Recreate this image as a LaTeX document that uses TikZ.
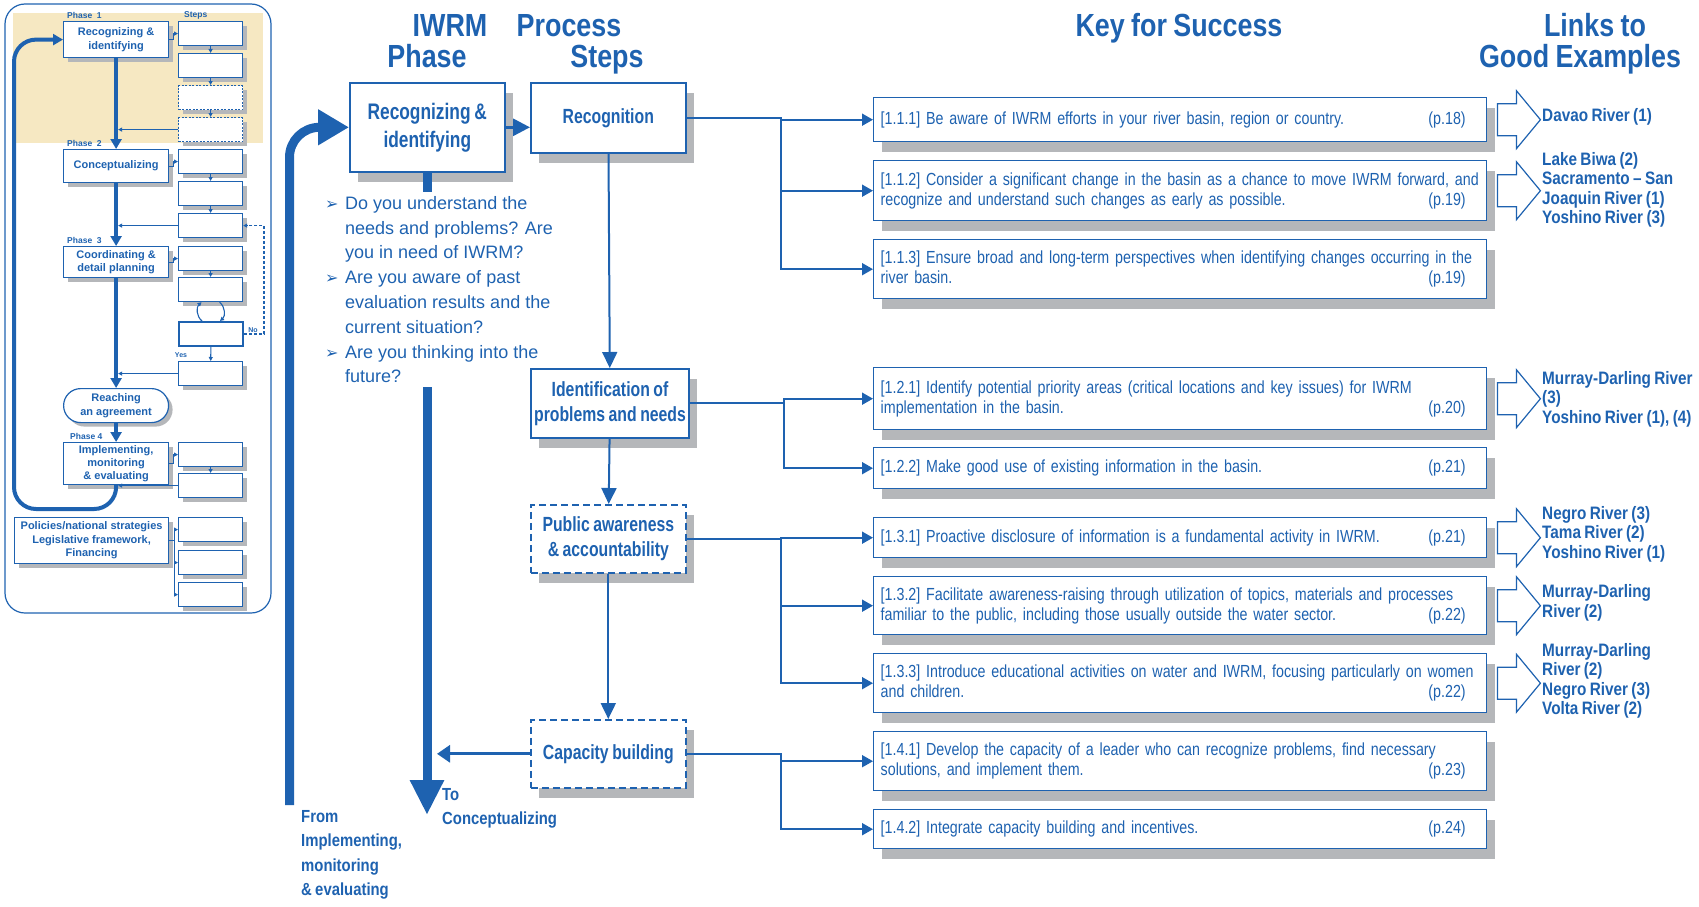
\documentclass[tikz,border=0pt]{standalone}
\usepackage{fontspec}
\setmainfont{Liberation Sans}
\newfontfamily\hdfont[FakeStretch=0.84,WordSpace=0.85]{Liberation Sans}
\newfontfamily\cnfont[FakeStretch=0.77,WordSpace=0.8]{Liberation Sans}
\newfontfamily\kyfont[FakeStretch=0.815,WordSpace=0.6]{Liberation Sans}
\newfontfamily\lkfont[FakeStretch=0.85,WordSpace=0.8]{Liberation Sans}
\newfontfamily\symfont{DejaVu Sans}
\usetikzlibrary{arrows.meta,shadows,calc}

\definecolor{iwblue}{RGB}{30,98,176}
\definecolor{shgray}{RGB}{181,183,186}
\definecolor{beige}{RGB}{246,232,194}

\newcommand\pg[1]{\hspace{\fill}(p.#1)\hspace*{14pt}}
\newcommand\bul{\makebox[20pt][l]{\symfont\fontsize{16}{16}\selectfont ➢}}
\newcommand\ind{\hspace*{20pt}}
\newcommand\linkarrow[1]{\draw[linkarr] ($(#1.east)+(10,-16)$) -- ++(19,0) -- ++(0,-13) -- ++(24,29) -- ++(-24,29) -- ++(0,-13) -- ++(-19,0) -- cycle;}

\begin{document}
\begin{tikzpicture}[x=1pt,y=-1pt,
	fat/.style={iwblue,line width=9pt},
	conn/.style={iwblue,line width=1.8pt,-{Triangle[length=11pt,width=12pt]}},
	vconn/.style={iwblue,line width=2pt,-{Triangle[length=16pt,width=15pt]}},
	bigshadow/.style={drop shadow={shadow xshift=8pt,shadow yshift=-10pt,fill=shgray,opacity=1}},
	phasebox/.style={draw=iwblue,line width=1.6pt,fill=white,anchor=north west,minimum width=155pt,align=center,text=iwblue,font=\cnfont\bfseries\fontsize{22.5}{28}\selectfont,bigshadow},
	stepbox/.style={draw=iwblue,line width=1.6pt,fill=white,anchor=north west,minimum width=155pt,align=center,text=iwblue,font=\cnfont\bfseries\fontsize{20.5}{25}\selectfont,bigshadow},
	dashbox/.style={stepbox,dash pattern=on 7pt off 4pt},
	keybox/.style={draw=iwblue,line width=1.4pt,fill=white,anchor=north west,text width=599pt,inner xsep=7pt,inner ysep=0pt,align=left,text=iwblue,font=\kyfont\fontsize{17.5}{20}\selectfont,bigshadow},
	linktxt/.style={anchor=west,align=left,inner sep=0pt,text=iwblue,font=\lkfont\bfseries\fontsize{18}{19.5}\selectfont},
	linkarr/.style={draw=iwblue,line width=1.2pt,fill=white},
	head/.style={anchor=base,inner sep=0pt,text=iwblue,font=\hdfont\bfseries\fontsize{32}{34}\selectfont},
	% overview panel
	thbox/.style={draw=iwblue,line width=1.2pt,fill=white,anchor=north west,minimum width=105pt,inner sep=0pt,align=center,text=iwblue,font=\bfseries\fontsize{11}{13.5}\selectfont,drop shadow={shadow xshift=4pt,shadow yshift=-4pt,fill=shgray,opacity=1}},
	thstep/.style={draw=iwblue,line width=1.2pt,fill=white,anchor=north west,minimum width=64pt,minimum height=24pt,inner sep=0pt,drop shadow={shadow xshift=4pt,shadow yshift=-4pt,fill=shgray,opacity=1}},
	thdstep/.style={thstep,dash pattern=on 2pt off 1.5pt},
	thdec/.style={draw=iwblue,line width=2pt,fill=white,anchor=north west,minimum width=64pt,minimum height=24pt,inner sep=0pt},
	thlbl/.style={inner sep=0pt,text=iwblue,font=\bfseries\fontsize{8.5}{9}\selectfont},
	thmain/.style={iwblue,line width=4pt,-{Triangle[length=10pt,width=11pt]}},
	thcon/.style={iwblue,line width=1.1pt,-{Triangle[length=4pt,width=4pt]}}]
\useasboundingbox (0,0) rectangle (1699,907);

%%%%% overview panel %%%%%
\fill[beige] (13,13) rectangle (263,143);
\draw[iwblue,line width=1.2pt,rounded corners=20pt] (5,4) rectangle (271,613);

\node[thlbl,anchor=west] (ph1) at (67,15) {Phase~~1};
\node[thlbl,anchor=west] (stl) at (184,15) {Steps};
\node[thlbl,anchor=west] (ph2) at (67,143) {Phase~~2};
\node[thlbl,anchor=west] (ph3) at (67,240) {Phase~~3};
\node[thlbl,anchor=west] (ph4) at (70,436) {Phase 4};

\node[thbox,minimum height=36pt] (p1) at (63,21) {Recognizing \&\\identifying};
\node[thbox,minimum height=33pt] (p2) at (63,149) {Conceptualizing};
\node[thbox,minimum height=31pt] (p3) at (63,246) {Coordinating \&\\detail planning};
\node[thbox,minimum height=34pt,rounded corners=17pt] (agr) at (63,388) {Reaching\\an agreement};
\node[thbox,minimum height=42pt,font=\bfseries\fontsize{11}{13}\selectfont] (p4) at (63,442) {Implementing,\\monitoring\\\& evaluating};
\node[thbox,minimum width=154pt,minimum height=46pt] (pol) at (14,517) {Policies/national strategies\\Legislative framework,\\Financing};

\foreach \t/\st [count=\i] in {21/thstep,53/thstep,85/thdstep,117/thdstep,149/thstep,181/thstep,213/thstep,246/thstep,277/thstep,321/thdec,361/thstep,442/thstep,473/thstep,517/thstep,550/thstep,582/thstep}
	\node[\st] (s\i) at (178,\t) {};

\draw[thmain] (p1) -- (p2);
\draw[thmain] (p2) -- (p3);
\draw[thmain] (p3) -- (agr);
\draw[thmain] (agr) -- (p4);
\coordinate (loopc) at (14,509);
\draw[thmain,rounded corners=22pt] (p4.south) |- (loopc) |- (p1.west);

\draw[thcon] (p1.east) -- ++(4,0) |- (s1.west);
\draw[thcon] (p2.east) -- ++(4,0) |- (s5.west);
\draw[thcon] (p3.east) -- ++(4,0) |- (s8.west);
\draw[thcon] (p4.east) -- ++(4,0) |- (s12.west);
\foreach \a/\b in {1/2,2/3,3/4,5/6,6/7,8/9,10/11,12/13}
	\draw[thcon] (s\a) -- (s\b);
\foreach \a in {4,7,11,13}
	\draw[thcon,shorten >=2pt] (s\a.west) -- (s\a.west -| p1.south);
\draw[thcon] ($(s10.north)+(-9,0)$) to[bend left=50] ($(s9.south)+(-9,0)$);
\draw[thcon] ($(s9.south)+(9,0)$) to[bend left=50] ($(s10.north)+(9,0)$);
\draw[thcon,dash pattern=on 3pt off 2pt] (s10.east) -- ++(20,0) |- (s7.east);
\node[thlbl,font=\bfseries\fontsize{7}{8}\selectfont,anchor=south] (nol) at (253,333) {No};
\node[thlbl,font=\bfseries\fontsize{7}{8}\selectfont] (yesl) at (181,355) {Yes};
\draw[thcon] (pol.east) -- ++(5,0) |- (s14.west);
\draw[thcon] (pol.east) -- ++(5,0) |- (s15.west);
\draw[thcon] (pol.east) -- ++(5,0) |- (s16.west);

%%%%% headings %%%%%
\node[head] (hiw) at (450,37) {IWRM};
\node[head] (hph) at (427,67) {Phase};
\node[head] (hpr) at (569,37) {Process};
\node[head] (hst) at (607,67) {Steps};
\node[head] (hky) at (1179,37) {Key for Success};
\node[head] (hln) at (1595,37) {Links to};
\node[head] (hgd) at (1580,67) {Good Examples};

%%%%% phase and steps %%%%%
\node[phasebox,minimum height=89pt] (recog) at (349,82) {Recognizing \&\\identifying};
\node[stepbox,minimum height=70pt] (rec) at (530,82) {Recognition};
\node[stepbox,minimum height=69pt] (ident) at (530,368) {Identification of\\problems and needs};
\node[dashbox,minimum height=68pt] (pub) at (530,504) {Public awareness\\\& accountability};
\node[dashbox,minimum height=68pt] (cap) at (530,719) {Capacity building};

\draw[iwblue,line width=3pt,-{Triangle[length=17pt,width=17pt]}] (recog.east) -- (recog.east -| rec.west);
\draw[vconn] (rec) -- (ident);
\draw[vconn] (ident) -- (pub);
\draw[vconn] (pub) -- (cap);

\draw[fat] (recog.south) -- ++(0,19);
\node[anchor=north west,inner sep=0pt,align=left,text=iwblue,font=\fontsize{18}{24.8}\selectfont] (quest) at (325,196) {\bul Do you understand the\\\ind needs and problems? Are\\\ind you in need of IWRM?\\\bul Are you aware of past\\\ind evaluation results and the\\\ind current situation?\\\bul Are you thinking into the\\\ind future?};

\coordinate (dtop) at (427,387);
\coordinate (dtip) at (427,815);
\draw[iwblue,line width=3pt,-{Triangle[length=13pt,width=17pt]}] (cap.west) -- ($(cap.west -| dtip)+(10,0)$);
\draw[fat,-{Triangle[length=35pt,width=32pt]}] (dtop) -- (dtip);
\node[anchor=north west,inner sep=0pt,align=left,text=iwblue,font=\lkfont\bfseries\fontsize{17.5}{24.5}\selectfont] (totxt) at (442,788) {To\\Conceptualizing};

\coordinate (ubot) at (289.5,805);
\draw[fat,rounded corners=30pt,-{Triangle[length=31pt,width=34pt]}] (ubot) |- (recog.west);
\node[anchor=north west,inner sep=0pt,align=left,text=iwblue,font=\lkfont\bfseries\fontsize{17.5}{24.5}\selectfont] (fromtxt) at (301,810) {From\\Implementing,\\monitoring\\\& evaluating};

%%%%% key for success %%%%%
\node[keybox,minimum height=44pt] (k111) at (873,97) {[1.1.1] Be aware of IWRM efforts in your river basin, region or country.\pg{18}};
\node[keybox,minimum height=60pt] (k112) at (873,160) {\mbox{[1.1.2] Consider a significant change in the basin as a chance to move IWRM forward, and}\\recognize and understand such changes as early as possible.\pg{19}};
\node[keybox,minimum height=59pt] (k113) at (873,239) {\mbox{[1.1.3] Ensure broad and long-term perspectives when identifying changes occurring in the}\\river basin.\pg{19}};
\node[keybox,minimum height=62pt] (k121) at (873,367) {\mbox{[1.2.1] Identify potential priority areas (critical locations and key issues) for IWRM}\\implementation in the basin.\pg{20}};
\node[keybox,minimum height=41pt] (k122) at (873,447) {[1.2.2] Make good use of existing information in the basin.\pg{21}};
\node[keybox,minimum height=40pt] (k131) at (873,517) {[1.3.1] Proactive disclosure of information is a fundamental activity in IWRM.\pg{21}};
\node[keybox,minimum height=58pt] (k132) at (873,576) {\mbox{[1.3.2] Facilitate awareness-raising through utilization of topics, materials and processes}\\familiar to the public, including those usually outside the water sector.\pg{22}};
\node[keybox,minimum height=59pt] (k133) at (873,653) {\mbox{[1.3.3] Introduce educational activities on water and IWRM, focusing particularly on women}\\and children.\pg{22}};
\node[keybox,minimum height=59pt] (k141) at (873,731) {\mbox{[1.4.1] Develop the capacity of a leader who can recognize problems, find necessary}\\solutions, and implement them.\pg{23}};
\node[keybox,minimum height=39pt] (k142) at (873,809) {[1.4.2] Integrate capacity building and incentives.\pg{24}};

\draw[conn] (rec.east) -- ++(94,0) |- (k111.west);
\draw[conn] (rec.east) -- ++(94,0) |- (k112.west);
\draw[conn] (rec.east) -- ++(94,0) |- (k113.west);
\draw[conn] (ident.east) -- ++(94,0) |- (k121.west);
\draw[conn] (ident.east) -- ++(94,0) |- (k122.west);
\draw[conn] (pub.east) -- ++(94,0) |- (k131.west);
\draw[conn] (pub.east) -- ++(94,0) |- (k132.west);
\draw[conn] (pub.east) -- ++(94,0) |- (k133.west);
\draw[conn] (cap.east) -- ++(94,0) |- (k141.west);
\draw[conn] (cap.east) -- ++(94,0) |- (k142.west);

%%%%% links to good examples %%%%%
\linkarrow{k111}
\linkarrow{k112}
\linkarrow{k121}
\linkarrow{k131}
\linkarrow{k132}
\linkarrow{k133}
\node[linktxt] (l111) at (1542,117) {Davao River (1)};
\node[linktxt] (l112) at (1542,190) {Lake Biwa (2)\\Sacramento – San\\Joaquin River (1)\\Yoshino River (3)};
\node[linktxt] (l121) at (1542,399) {Murray-Darling River\\(3)\\Yoshino River (1), (4)};
\node[linktxt] (l131) at (1542,534) {Negro River (3)\\Tama River (2)\\Yoshino River (1)};
\node[linktxt] (l132) at (1542,603) {Murray-Darling\\River (2)};
\node[linktxt] (l133) at (1542,681) {Murray-Darling\\River (2)\\Negro River (3)\\Volta River (2)};
\end{tikzpicture}
\end{document}
